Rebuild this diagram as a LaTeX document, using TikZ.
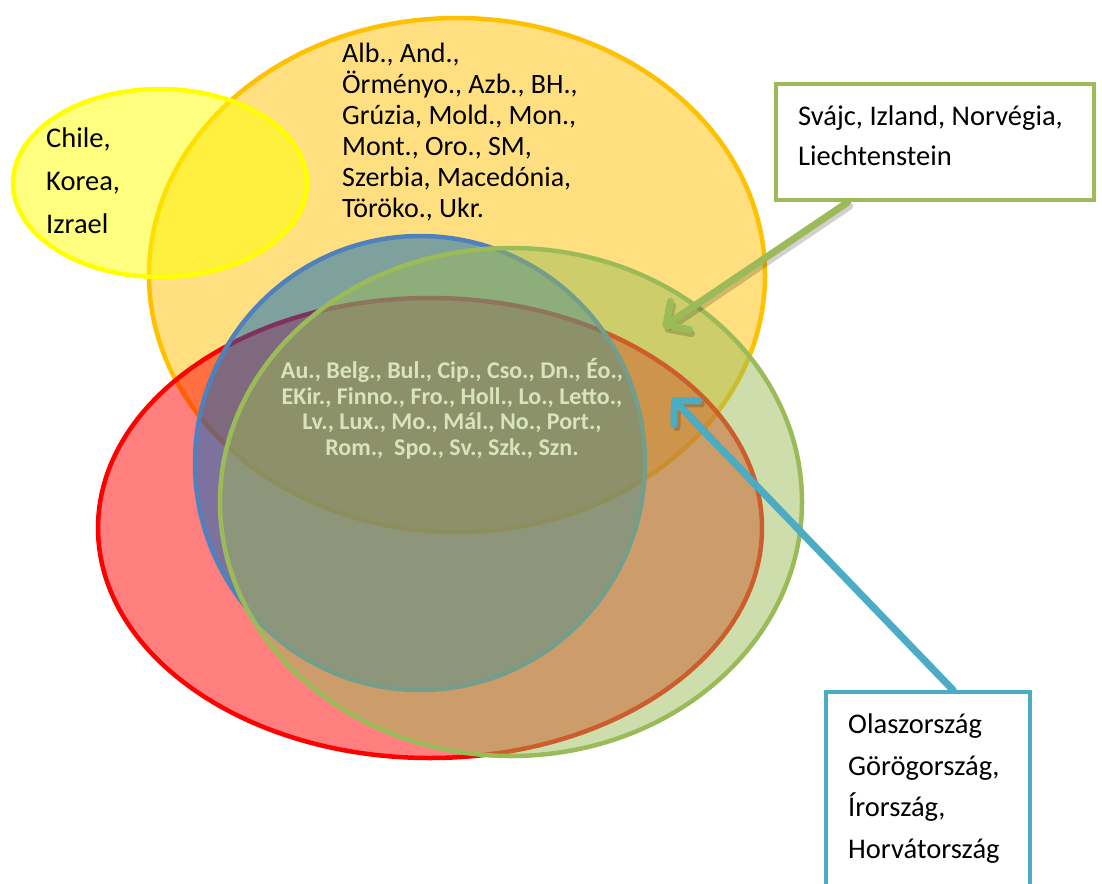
\documentclass[tikz,border=0pt]{standalone}
\usepackage{fontspec}
\setmainfont{Carlito}
\usetikzlibrary{arrows.meta}
\definecolor{cOrange}{HTML}{FFC000}
\definecolor{cYellow}{HTML}{FFFF00}
\definecolor{cRed}{HTML}{FF0000}
\definecolor{cBlue}{HTML}{4F81BD}
\definecolor{cBlueFill}{HTML}{0064BE}
\definecolor{cGreen}{HTML}{9BBB59}
\definecolor{cTeal}{HTML}{4BACC6}
\definecolor{cText}{HTML}{D7E4BD}
\begin{document}
\begin{tikzpicture}[x=1pt,y=-1pt,
  setshape/.style={line width=4.5pt, fill opacity=0.5},
  labelbox/.style={line width=4.5pt, fill=white, inner sep=0pt},
  arrowline/.style={line width=7pt, line cap=round,
    -{Straight Barb[length=17pt,width=34pt,round]}},
  shadowline/.style={arrowline, draw=black, opacity=0.18},
  bigtext/.style={align=left, inner sep=0pt, text=black}]
\useasboundingbox (0,0) rectangle (1102,883);
\clip (0,0) rectangle (1102,883);
% sets
\draw[setshape, draw=cOrange, fill=cOrange] (457,275) ellipse [x radius=308, y radius=257];
\draw[setshape, draw=cYellow, fill=cYellow] (160,183) ellipse [x radius=147, y radius=94];
\draw[setshape, draw=cRed, fill=cRed] (430,528) ellipse [x radius=332, y radius=230];
\draw[setshape, draw=cBlue, fill=cBlueFill] (420,463) ellipse [x radius=225, y radius=227];
\draw[setshape, draw=cGreen, fill=cGreen] (511,502) ellipse [x radius=291, y radius=254];
% texts in sets (anchor = baseline of last line)
\node[bigtext, anchor=base west, font=\fontsize{28}{31}\selectfont] (otext) at (342,217)
  {Alb., And.,\\Örményo., Azb., BH.,\\Grúzia, Mold., Mon.,\\Mont., Oro., SM,\\Szerbia, Macedónia,\\Töröko., Ukr.};
\node[bigtext, anchor=base west, font=\fontsize{28.5}{43}\selectfont] (ytext) at (46,233)
  {Chile,\\Korea,\\Izrael};
\node[align=center, inner sep=0pt, anchor=base, text=cText, font=\bfseries\fontsize{24}{25.5}\selectfont] (ctext) at (452,455)
  {Au., Belg., Bul., Cip., Cso., Dn., Éo.,\\EKir., Finno., Fro., Holl., Lo., Letto.,\\Lv., Lux., Mo., Mál., No., Port.,\\Rom.,\ \ Spo., Sv., Szk., Szn.};
% boxes (positions)
\path (935,142) node[labelbox, draw=cGreen, minimum width=318pt, minimum height=116pt] (gbox) {};
\path (928,800) node[labelbox, draw=cTeal, minimum width=204pt, minimum height=216pt] (bbox) {};
\coordinate (gtip) at (663,327);
\coordinate (btip) at (672,398);
% arrow shadows
\draw[shadowline, transform canvas={shift={(2pt,-4pt)}}] ([xshift=74pt]gbox.south west) -- (gtip);
\draw[shadowline, transform canvas={shift={(3pt,-3pt)}}] ([xshift=129pt]bbox.north west) -- (btip);
% arrows
\draw[arrowline, draw=cGreen] ([xshift=74pt]gbox.south west) -- (gtip);
\draw[arrowline, draw=cTeal] ([xshift=129pt]bbox.north west) -- (btip);
% boxes drawn over arrow starts
\node[labelbox, draw=cGreen, minimum width=318pt, minimum height=116pt] at (gbox.center) (gbox2) {};
\node[labelbox, draw=cTeal, minimum width=204pt, minimum height=216pt] at (bbox.center) (bbox2) {};
\node[bigtext, anchor=base west, font=\fontsize{28.5}{40}\selectfont] (gtext) at (798,165)
  {Svájc, Izland, Norvégia,\\Liechtenstein};
\node[bigtext, anchor=base west, font=\fontsize{28.5}{41.5}\selectfont] (btext) at (848,858)
  {Olaszország\\Görögország,\\Írország,\\Horvátország};
\end{tikzpicture}
\end{document}
